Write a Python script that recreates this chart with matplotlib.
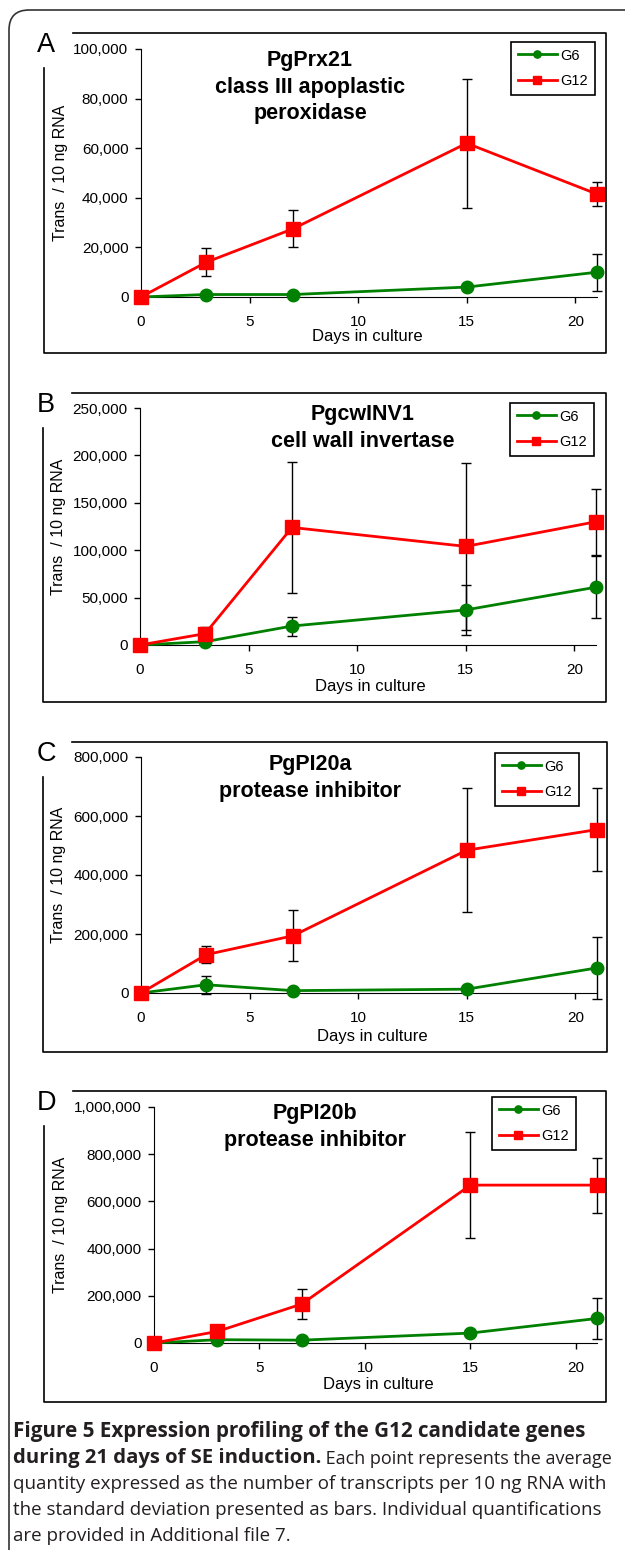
import matplotlib
matplotlib.use('Agg')
import matplotlib.pyplot as plt
from matplotlib.lines import Line2D
from matplotlib.patches import FancyBboxPatch
from matplotlib.text import Annotation
from matplotlib.ticker import FuncFormatter
from matplotlib.transforms import Affine2D

plt.rcParams['font.family'] = ['Liberation Sans', 'DejaVu Sans']

days = [0, 3, 7, 15, 21]

# A - PgPrx21
g6_a = [0, 1000, 1000, 4000, 10000]
g6_a_err = [0, 300, 300, 800, 7500]
g12_a = [0, 14000, 27500, 62000, 41500]
g12_a_err = [0, 5700, 7500, 26000, 5000]

# B - PgcwINV1
g6_b = [0, 3500, 20000, 37000, 61000]
g6_b_err = [0, 1000, 10000, 26000, 33000]
g12_b = [0, 12000, 124000, 104000, 130000]
g12_b_err = [0, 7000, 69000, 88000, 35000]

# C - PgPI20a
g6_c = [0, 28000, 8000, 13000, 85000]
g6_c_err = [0, 30000, 2000, 3000, 106000]
g12_c = [0, 130000, 194000, 484000, 554000]
g12_c_err = [0, 28000, 86000, 211000, 142000]

# D - PgPI20b
g6_d = [0, 14000, 12000, 42000, 104000]
g6_d_err = [0, 3000, 3000, 5000, 88000]
g12_d = [0, 49000, 165000, 669000, 669000]
g12_d_err = [0, 5000, 63000, 225000, 117000]

letters = ['A', 'B', 'C', 'D']
titles = ['PgPrx21\nclass III apoplastic\nperoxidase',
          'PgcwINV1\ncell wall invertase',
          'PgPI20a\nprotease inhibitor',
          'PgPI20b\nprotease inhibitor']
y_max = [100000, 250000, 800000, 1000000]
y_step = [20000, 50000, 200000, 200000]
x_ticks = [0, 5, 10, 15, 20]

caption_bold = ['Figure 5 Expression profiling of the G12 candidate genes',
                'during 21 days of SE induction.']
caption_rest = ['Each point represents the average',
                'quantity expressed as the number of transcripts per 10 ng RNA with',
                'the standard deviation presented as bars. Individual quantifications',
                'are provided in Additional file 7.']

series = [(g6_a, g6_a_err, g12_a, g12_a_err),
          (g6_b, g6_b_err, g12_b, g12_b_err),
          (g6_c, g6_c_err, g12_c, g12_c_err),
          (g6_d, g6_d_err, g12_d, g12_d_err)]

# layout in pixels (top-left origin)
axes_px = [(141, 49, 597, 297), (140, 408, 596, 645),
           (141, 757, 597, 993), (154, 1107, 597, 1343)]
box_px = [(44, 33, 606, 353), (43, 393, 606, 702),
          (43, 742, 607, 1052), (44, 1091, 606, 1402)]
title_px = [(310, 87), (363, 428), (310, 778), (315, 1127)]
legend_px = [(511, 42), (510, 403), (495, 753), (492, 1097)]
xlabel_px = [(367, 337), (370, 687), (372, 1037), (378, 1385)]
ylabel_x = [60, 58, 58, 60]

W, H = 625, 1550
fig = plt.figure(figsize=(W / 100, H / 100), dpi=100)
px = Affine2D().scale(1 / 100, -1 / 100).translate(0, H / 100) + fig.dpi_scale_trans

# outer frame of the figure page
fig.add_artist(FancyBboxPatch((9, 10), 1000, 1700, boxstyle='round,pad=0,rounding_size=20',
                              transform=px, fill=False, ec='#333333', lw=1.2))

green = '#008000'
red = '#ff0000'

for i in range(4):
    l, t, r, b = axes_px[i]
    ax = fig.add_axes([l / W, 1 - b / H, (r - l) / W, (b - t) / H])
    g6, g6_err, g12, g12_err = series[i]

    for vals, err in [(g6, g6_err), (g12, g12_err)]:
        eb = ax.errorbar(days, vals, yerr=err, fmt='none', ecolor='black',
                         elinewidth=1, capsize=3.5, capthick=1, zorder=2)
        for art in eb.get_children():
            art.set_clip_on(False)

    ax.plot(days, g6, color=green, lw=2, marker='o', ms=9, label='G6',
            clip_on=False, zorder=3)
    ax.plot(days, g12, color=red, lw=2, marker='s', ms=9.5, label='G12',
            clip_on=False, zorder=4)

    ax.set_xlim(0, 21)
    ax.set_ylim(0, y_max[i])
    ax.set_xticks(x_ticks)
    ax.set_yticks(range(0, y_max[i] + 1, y_step[i]))
    ax.yaxis.set_major_formatter(FuncFormatter(lambda v, p: f'{int(v):,}'))
    ax.spines['top'].set_visible(False)
    ax.spines['right'].set_visible(False)
    ax.tick_params(direction='out', length=4, width=1, labelsize=11)
    ax.tick_params(axis='x', pad=9)
    ax.tick_params(axis='y', pad=5)

    ax.set_xlabel('Days in culture', fontsize=12, va='center')
    ax.xaxis.set_label_coords((xlabel_px[i][0] - l) / (r - l), (b - xlabel_px[i][1]) / (b - t))
    ax.set_ylabel('Trans  / 10 ng RNA', fontsize=11.5, va='center')
    ax.yaxis.set_label_coords((ylabel_x[i] - l) / (r - l), 0.5)

    leg = ax.legend(loc='upper left', bbox_to_anchor=legend_px[i], bbox_transform=px,
                    fancybox=False, edgecolor='black', framealpha=1, fontsize=10.5,
                    handlelength=2.7, handletextpad=0.25, borderpad=0.45,
                    labelspacing=0.8, markerscale=0.58, borderaxespad=0)
    leg.get_frame().set_linewidth(1.2)

    fig.text(title_px[i][0], title_px[i][1], titles[i], transform=px, ha='center',
             va='center', fontsize=15.5, weight='bold', linespacing=1.35,
             multialignment='center')

    # panel frame with a gap for the letter
    x0, y0, x1, y1 = box_px[i]
    fig.add_artist(Line2D([x0 + 29, x1, x1, x0, x0], [y0, y0, y1, y1, y0 + 35],
                          transform=px, color='black', lw=1.2))
    fig.text(37, y0 + 19, letters[i], transform=px, fontsize=19.5, va='baseline')

# caption
cap_font = 'Open Sans'
t1 = fig.text(13, 1437, caption_bold[0], transform=px, family=cap_font,
              fontsize=14.9, weight='bold', va='baseline', color='#231f20')
t2 = fig.text(13, 1463, caption_bold[1], transform=px, family=cap_font,
              fontsize=14.6, weight='bold', va='baseline', color='#231f20')
fig.add_artist(Annotation(' ' + caption_rest[0], xy=(1, 0), xycoords=t2, va='bottom',
                          family=cap_font, fontsize=13.0, color='#231f20'))
for k, line in enumerate(caption_rest[1:]):
    fig.text(13, 1489 + 26 * k, line, transform=px, family=cap_font,
             fontsize=13.5, va='baseline', color='#231f20')

fig.savefig('out.png', dpi=100)
